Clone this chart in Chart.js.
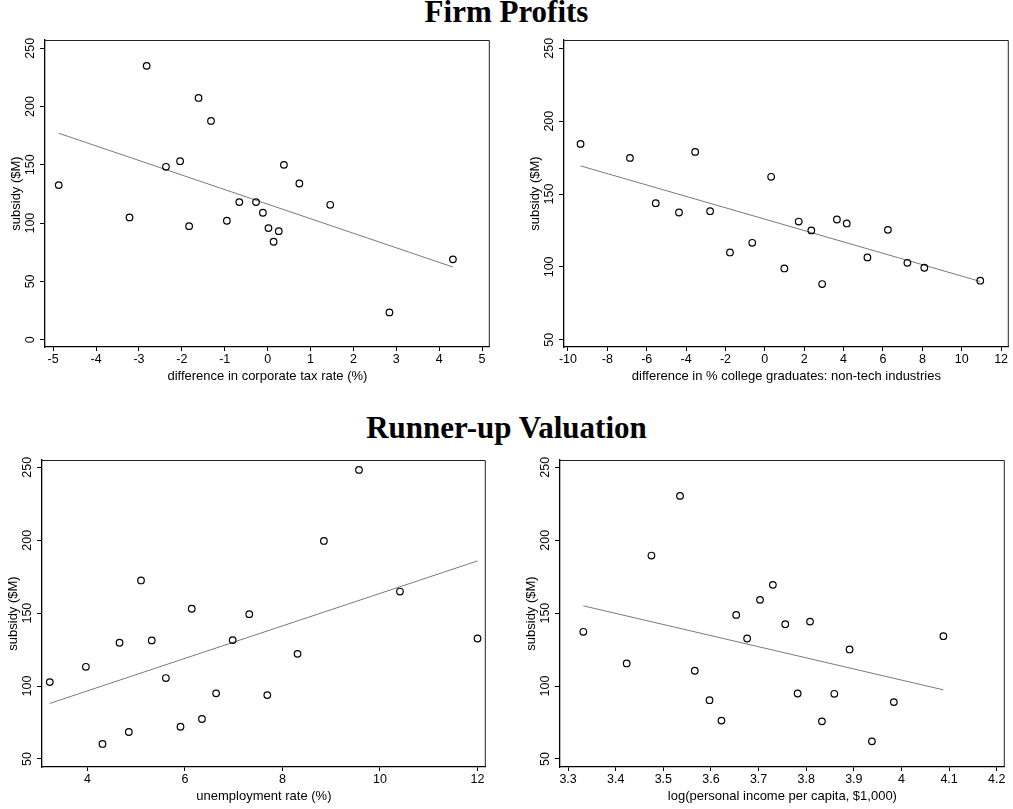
<!DOCTYPE html>
<html>
<head>
<meta charset="utf-8">
<script src="https://cdn.jsdelivr.net/npm/chart.js@4/dist/chart.umd.min.js"></script>
<style>
  body { margin: 0; background: #fff; width: 1013px; height: 809px; position: relative; overflow: hidden; }
  .ttl { position: absolute; left: 0; width: 1013px; text-align: center;
         font: bold 31px "Liberation Serif", "Times New Roman", serif; line-height: 31px; color: #000; }
  canvas { position: absolute; }
</style>
</head>
<body>
<div class="ttl" style="top:-4px">Firm Profits</div>
<div class="ttl" style="top:412px">Runner-up Valuation</div>
<canvas id="c1"></canvas>
<canvas id="c2"></canvas>
<canvas id="c3"></canvas>
<canvas id="c4"></canvas>
<script>
// ---- data ----
const taxX = [-4.87, -3.22, -2.82, -2.37, -2.04, -1.83, -1.61, -1.32, -0.95, -0.66,
              -0.27, -0.11, 0.02, 0.14, 0.26, 0.38, 0.74, 1.46, 2.84, 4.32];
const taxY = [132.6, 104.9, 234.9, 148.3, 153.1, 97.4, 207.4, 187.7, 102, 118,
              118, 108.9, 95.7, 84, 93.1, 150, 134, 115.7, 23.4, 68.9];
const taxFitX = [-4.87, 4.32];
const taxFitY = [177.1, 62.3];

const gradX = [-9.36, -6.85, -5.54, -4.36, -3.54, -2.78, -1.77, -0.64, 0.32, 0.99,
               1.72, 2.36, 2.91, 3.66, 4.16, 5.21, 6.25, 7.24, 8.1, 10.94];
const gradY = [184.4, 174.8, 143.7, 137.3, 178.9, 138.2, 109.9, 116.5, 161.8, 98.9,
               131.1, 125, 88.2, 132.5, 129.8, 106.5, 125.4, 102.8, 99.4, 90.5];
const gradFitX = [-9.36, 10.94];
const gradFitY = [169.3, 90.0];

const unempX = [3.23, 3.97, 4.31, 4.66, 4.85, 5.10, 5.32, 5.61, 5.91, 6.14,
                6.35, 6.64, 6.98, 7.32, 7.69, 8.31, 8.85, 9.57, 10.41, 12.0];
const unempY = [102.7, 113.2, 60.3, 129.7, 68.5, 172.4, 131.3, 105.5, 72.1, 153,
                77.4, 95, 131.5, 149.3, 93.8, 122.1, 199.5, 248.2, 164.8, 132.6];
const unempFitX = [3.23, 12.0];
const unempFitY = [88.1, 185.8];

const incX = [3.332, 3.423, 3.475, 3.535, 3.566, 3.597, 3.622, 3.653, 3.676, 3.703,
              3.730, 3.756, 3.782, 3.808, 3.833, 3.859, 3.891, 3.938, 3.984, 4.088];
const incY = [137.2, 115.5, 189.5, 230.4, 110.5, 90.3, 76.3, 148.8, 132.6, 159.1,
              169.4, 142.4, 94.9, 144.2, 75.8, 94.7, 125.1, 62.1, 89, 134.2];
const incFitX = [3.332, 4.088];
const incFitY = [155.0, 97.4];

const xTicks1 = [-5, -4, -3, -2, -1, 0, 1, 2, 3, 4, 5];
const xTicks2 = [-10, -8, -6, -4, -2, 0, 2, 4, 6, 8, 10, 12];
const xTicks3 = [4, 6, 8, 10, 12];
const xTicks4 = [3.3, 3.4, 3.5, 3.6, 3.7, 3.8, 3.9, 4, 4.1, 4.2];
const yTicksA = [0, 50, 100, 150, 200, 250];
const yTicksB = [50, 100, 150, 200, 250];

const yTitle = 'subsidy ($M)';
const SANS = '"Liberation Sans", Arial, sans-serif';

// frame, rotated y labels and axis titles (Stata look)
const stataDecor = {
  id: 'stataDecor',
  afterDraw(chart, args, opts) {
    const { ctx, chartArea: a, scales } = chart;
    ctx.save();
    ctx.strokeStyle = '#222';
    ctx.lineWidth = 1;
    ctx.beginPath();
    ctx.moveTo(a.left, a.top + 0.5);
    ctx.lineTo(a.right - 0.5, a.top + 0.5);
    ctx.lineTo(a.right - 0.5, a.bottom);
    ctx.stroke();

    ctx.fillStyle = '#000';
    ctx.font = '12.5px ' + SANS;
    ctx.textAlign = 'center';
    ctx.textBaseline = 'middle';
    const ys = scales.y;
    ys.ticks.forEach(t => {
      const py = ys.getPixelForValue(t.value);
      ctx.save();
      ctx.translate(a.left - 14, py);
      ctx.rotate(-Math.PI / 2);
      ctx.fillText(String(t.value), 0, 0);
      ctx.restore();
    });

    ctx.font = '13px ' + SANS;
    ctx.save();
    ctx.translate(a.left - 29, (a.top + a.bottom) / 2);
    ctx.rotate(-Math.PI / 2);
    ctx.fillText(yTitle, 0, 0);
    ctx.restore();

    ctx.fillText(opts.xTitle, (a.left + a.right) / 2, a.bottom + 29);
    ctx.restore();
  }
};

function makePanel(id, box, xs, ys, fitX, fitY, xMin, xMax, xTicks, yMin, yMax, yTicks, xTitle) {
  const cv = document.getElementById(id);
  const padL = 45, padT = 8, padR = 2, padB = 42;
  cv.width = (box.r - box.l) + padL + padR;
  cv.height = (box.b - box.t) + padT + padB;
  cv.style.left = (box.l - padL) + 'px';
  cv.style.top = (box.t - padT) + 'px';

  return new Chart(cv, {
    type: 'scatter',
    data: {
      datasets: [
        {
          data: fitX.map((x, i) => ({ x: x, y: fitY[i] })),
          showLine: true,
          borderColor: '#7a7a7a',
          borderWidth: 1,
          pointRadius: 0,
          order: 2
        },
        {
          data: xs.map((x, i) => ({ x: x, y: ys[i] })),
          pointRadius: 3.3,
          pointBorderWidth: 1.2,
          borderColor: '#000',
          backgroundColor: 'rgba(0,0,0,0)',
          order: 1
        }
      ]
    },
    options: {
      responsive: false,
      animation: false,
      devicePixelRatio: 1,
      layout: { padding: { left: 0, top: padT, right: padR, bottom: 0 } },
      plugins: {
        legend: { display: false },
        tooltip: { enabled: false },
        stataDecor: { xTitle: xTitle }
      },
      scales: {
        x: {
          type: 'linear',
          min: xMin, max: xMax,
          afterBuildTicks: s => { s.ticks = xTicks.map(v => ({ value: v })); },
          afterFit: s => { s.height = padB; },
          ticks: {
            color: '#000',
            font: { family: SANS, size: 12.5 },
            padding: 1,
            maxRotation: 0,
            autoSkip: false,
            callback: v => String(Math.round(v * 10) / 10)
          },
          grid: { drawOnChartArea: false, drawTicks: true, tickLength: 4, color: '#000', lineWidth: 1 },
          border: { display: true, color: '#000', width: 1.3 }
        },
        y: {
          type: 'linear',
          min: yMin, max: yMax,
          afterBuildTicks: s => { s.ticks = yTicks.map(v => ({ value: v })); },
          afterFit: s => { s.width = padL; },
          ticks: { display: false },
          grid: { drawOnChartArea: false, drawTicks: true, tickLength: 5, color: '#000', lineWidth: 1 },
          border: { display: true, color: '#000', width: 1.3 }
        }
      }
    },
    plugins: [stataDecor]
  });
}

document.addEventListener('DOMContentLoaded', () => {
  makePanel('c1', { l: 45, r: 493, t: 40, b: 347 }, taxX, taxY, taxFitX, taxFitY,
    -5.19, 5.18, xTicks1, -6.3, 257.1, yTicksA, 'difference in corporate tax rate (%)');
  makePanel('c2', { l: 564, r: 1012, t: 40, b: 347 }, gradX, gradY, gradFitX, gradFitY,
    -10.2, 12.39, xTicks2, 45, 255.7, yTicksB, 'difference in % college graduates: non-tech industries');
  makePanel('c3', { l: 42, r: 489, t: 460, b: 767 }, unempX, unempY, unempFitX, unempFitY,
    3.07, 12.17, xTicks3, 44.5, 255, yTicksB, 'unemployment rate (%)');
  makePanel('c4', { l: 560, r: 1008, t: 460, b: 767 }, incX, incY, incFitX, incFitY,
    3.283, 4.217, xTicks4, 44.5, 255, yTicksB, 'log(personal income per capita, $1,000)');
});
</script>
</body>
</html>
